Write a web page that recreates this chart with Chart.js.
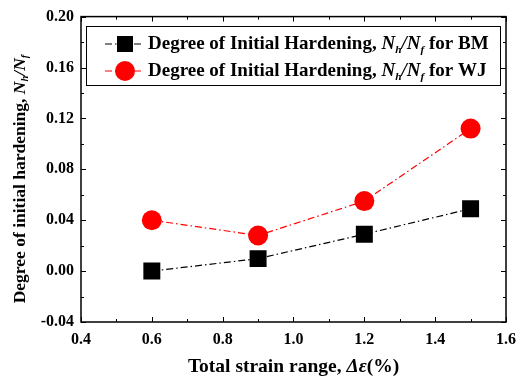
<!DOCTYPE html>
<html>
<head>
<meta charset="utf-8">
<script src="https://cdn.jsdelivr.net/npm/chart.js@4.4.1/dist/chart.umd.min.js"></script>
<style>
  html, body { margin: 0; padding: 0; background: #fff; }
  #wrap { width: 524px; height: 383px; }
</style>
</head>
<body>
<div id="wrap"><canvas id="chart" width="524" height="383"></canvas></div>
<script>
// strain ranges (%) and hardening degrees
const strainRange = [0.6, 0.9, 1.2, 1.5];
const hardeningBM = [0.000, 0.0098, 0.029, 0.049];
const hardeningWJ = [0.040, 0.028, 0.055, 0.112];
const seriesNames = ['BM', 'WJ'];
const xTicks = [0.4, 0.6, 0.8, 1.0, 1.2, 1.4, 1.6];
const yTicks = [-0.04, 0.00, 0.04, 0.08, 0.12, 0.16, 0.20];

const FONT = "'Liberation Serif', 'Times New Roman', serif";
const dashDot = [7, 3, 1.5, 3];

function toPts(xs, ys) {
    return xs.map((x, i) => ({ x: x, y: ys[i] }));
}

// draw text pieces one after another (normal / italic / subscript)
function drawRich(ctx, parts, x, y, size) {
    let cx = x;
    parts.forEach(p => {
        const s = p.sub ? size * 0.6 : size;
        ctx.font = (p.it ? 'italic ' : '') + 'bold ' + s + 'px ' + FONT;
        ctx.fillText(p.t, cx, y + (p.sub ? size * 0.3 : 0));
        cx += ctx.measureText(p.t).width;
    });
    return cx - x;
}
function richWidth(ctx, parts, size) {
    let w = 0;
    parts.forEach(p => {
        const s = p.sub ? size * 0.6 : size;
        ctx.font = (p.it ? 'italic ' : '') + 'bold ' + s + 'px ' + FONT;
        w += ctx.measureText(p.t).width;
    });
    return w;
}

const decor = {
    id: 'decor',
    afterDraw(chart) {
        const ctx = chart.ctx;
        const a = chart.chartArea;
        const xs = chart.scales.x, ys = chart.scales.y;
        ctx.save();
        // frame
        ctx.strokeStyle = '#000';
        ctx.lineWidth = 1.5;
        ctx.strokeRect(a.left, a.top, a.right - a.left, a.bottom - a.top);
        // inward ticks, major + minor
        ctx.lineWidth = 1;
        ctx.beginPath();
        for (let k = 0; k <= 12; k++) {
            const v = 0.4 + k * 0.1;
            const px = Math.round(xs.getPixelForValue(v)) + 0.5;
            const len = k % 2 === 0 ? 5 : 3;
            ctx.moveTo(px, a.bottom); ctx.lineTo(px, a.bottom - len);
            ctx.moveTo(px, a.top); ctx.lineTo(px, a.top + len);
        }
        for (let k = 0; k <= 12; k++) {
            const v = -0.04 + k * 0.02;
            const py = Math.round(ys.getPixelForValue(v)) + 0.5;
            const len = k % 2 === 0 ? 5 : 3;
            ctx.moveTo(a.left, py); ctx.lineTo(a.left + len, py);
            ctx.moveTo(a.right, py); ctx.lineTo(a.right - len, py);
        }
        ctx.stroke();

        // axis titles
        ctx.fillStyle = '#000';
        ctx.textBaseline = 'middle';
        const xt = [{ t: 'Total strain range, ' }, { t: '\u0394\u03b5', it: true }, { t: '(%)' }];
        const xw = richWidth(ctx, xt, 19.5);
        drawRich(ctx, xt, (a.left + a.right) / 2 - xw / 2, 367, 19.5);

        const yt = [{ t: 'Degree of initial hardening, ' }, { t: 'N', it: true }, { t: 'h', it: true, sub: true },
                    { t: '/', it: true }, { t: 'N', it: true }, { t: 'f', it: true, sub: true }];
        const yw = richWidth(ctx, yt, 17.5);
        ctx.save();
        ctx.translate(20, 179);
        ctx.rotate(-Math.PI / 2);
        drawRich(ctx, yt, -yw / 2, 0, 17.5);
        ctx.restore();

        // legend
        ctx.strokeStyle = '#000';
        ctx.lineWidth = 1;
        ctx.strokeRect(86.5, 26.5, 414, 59);
        chart.data.datasets.forEach((ds, i) => {
            const ly = 44 + i * 27;
            ctx.strokeStyle = ds.borderColor;
            ctx.lineWidth = 1.2;
            ctx.setLineDash(dashDot);
            ctx.beginPath();
            ctx.moveTo(105, ly); ctx.lineTo(143, ly);
            ctx.stroke();
            ctx.setLineDash([]);
            ctx.fillStyle = ds.pointBackgroundColor;
            ctx.beginPath();
            if (ds.pointStyle === 'rect') {
                ctx.rect(117, ly - 8, 16, 16);
            } else {
                ctx.arc(125, ly, 10, 0, Math.PI * 2);
            }
            ctx.fill();
            ctx.fillStyle = '#000';
            drawRich(ctx, [{ t: 'Degree of Initial Hardening, ' }, { t: 'N', it: true }, { t: 'h', it: true, sub: true },
                           { t: '/', it: true }, { t: 'N', it: true }, { t: 'f', it: true, sub: true },
                           { t: ' for ' + seriesNames[i] }], 148, ly, 19);
        });
        ctx.restore();
    }
};

new Chart(document.getElementById('chart'), {
    type: 'line',
    data: {
        datasets: [
            {
                label: 'BM',
                data: toPts(strainRange, hardeningBM),
                borderColor: '#000',
                borderWidth: 1.2,
                borderDash: dashDot,
                pointStyle: 'rect',
                pointRadius: 12,
                pointBackgroundColor: '#000',
                pointBorderWidth: 0,
                tension: 0
            },
            {
                label: 'WJ',
                data: toPts(strainRange, hardeningWJ),
                borderColor: '#ff0000',
                borderWidth: 1.2,
                borderDash: dashDot,
                pointStyle: 'circle',
                pointRadius: 10,
                pointBackgroundColor: '#ff0000',
                pointBorderWidth: 0,
                tension: 0
            }
        ]
    },
    options: {
        responsive: false,
        animation: false,
        layout: { padding: { top: 12, right: 16, left: 0, bottom: 0 } },
        plugins: { legend: { display: false }, tooltip: { enabled: false } },
        scales: {
            x: {
                type: 'linear',
                min: 0.4, max: 1.6,
                afterBuildTicks: s => { s.ticks = xTicks.map(v => ({ value: v })); },
                afterFit: s => { s.height = 61; },
                grid: { display: false, drawTicks: false },
                border: { display: false },
                ticks: {
                    padding: 8,
                    color: '#000',
                    font: { family: FONT, size: 16, weight: 'bold' },
                    callback: v => v.toFixed(1)
                }
            },
            y: {
                min: -0.04, max: 0.20,
                afterBuildTicks: s => { s.ticks = yTicks.map(v => ({ value: v })); },
                afterFit: s => { s.width = 81; },
                grid: { display: false, drawTicks: false },
                border: { display: false },
                ticks: {
                    padding: 7,
                    color: '#000',
                    font: { family: FONT, size: 16, weight: 'bold' },
                    callback: v => v.toFixed(2)
                }
            }
        }
    },
    plugins: [decor]
});
</script>
</body>
</html>
